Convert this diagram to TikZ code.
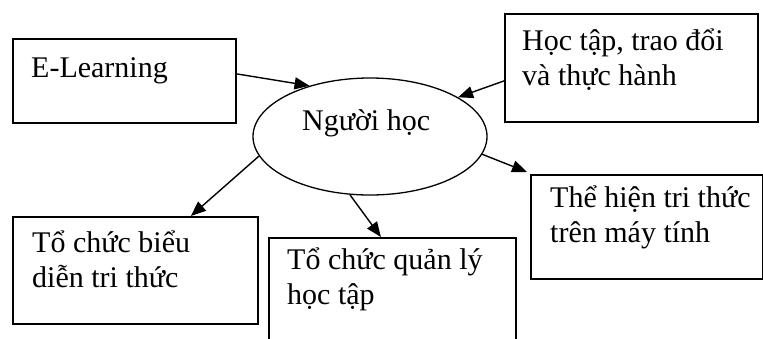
\documentclass[tikz,border=0pt]{standalone}
\usepackage{fontspec}
\setmainfont{Liberation Serif}
\usetikzlibrary{arrows.meta,shapes.geometric}
\begin{document}
\begin{tikzpicture}[x=1pt,y=-1pt,
  box/.style={draw, line width=1.8pt, inner sep=0pt, anchor=north west},
  txt/.style={font=\fontsize{30}{35}\selectfont, inner sep=0pt, align=left, anchor=base west},
  arr/.style={-{Triangle[length=15pt,width=12pt]}, line width=1.4pt},
  oval/.style={draw, ellipse, line width=1.3pt, inner sep=0pt}]
\useasboundingbox (0,0) rectangle (763,338);
\clip (0,0) rectangle (763,338);
% boxes
\node[box, minimum width=223pt, minimum height=84pt] (eL) at (12,38) {};
\node[box, minimum width=253pt, minimum height=108pt] (hoc) at (504,13) {};
\node[box, minimum width=245pt, minimum height=107pt] (bieu) at (12,216) {};
\node[box, minimum width=247pt, minimum height=130pt] (ql) at (268,237) {};
\node[box, minimum width=232pt, minimum height=104pt] (the) at (530,174) {};
\node[oval, minimum width=234pt, minimum height=117pt] (el) at (370,136.5) {};
% texts (anchor is the baseline of the last line)
\node[txt] (eLt) at (31,77) {E-Learning};
\node[txt] (hoct) at (522,85) {Học tập, trao đổi\\và thực hành};
\node[txt] (bieut) at (32,287) {Tổ chức biểu\\diễn tri thức};
\node[txt] (qlt) at (287,304) {Tổ chức quản lý\\học tập};
\node[txt] (thet) at (550,242) {Thể hiện tri thức\\trên máy tính};
\node[txt] (elt) at (302,130) {Người học};
% arrows
\draw[arr] ([yshift=7pt]eL.east) -- (el.140);
\draw[arr] ([yshift=-13pt]hoc.west) -- (el.24.2);
\draw[arr] (el.190.3) -- ([xshift=55.5pt]bieu.north);
\draw[arr] (el.251) -- ([xshift=-11.5pt]ql.north);
\draw[arr] (el.351.4) -- ([xshift=-3pt,yshift=2pt]the.north west);
\end{tikzpicture}
\end{document}
